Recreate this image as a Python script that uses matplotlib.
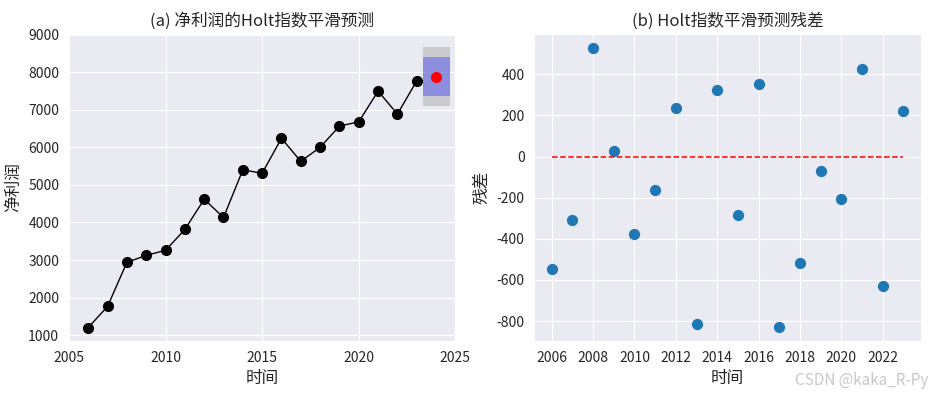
import matplotlib
matplotlib.use('Agg')
import matplotlib.pyplot as plt
import seaborn as sns

sns.set_style('darkgrid')
plt.rcParams['font.family'] = ['Noto Sans CJK SC', 'DejaVu Sans']
plt.rcParams['axes.unicode_minus'] = False

# 净利润及 Holt 预测
years = list(range(2006, 2024))
profit = [1204, 1764, 2938, 3124, 3258, 3813, 4618, 4133, 5400, 5311,
          6240, 5627, 6000, 6565, 6680, 7497, 6885, 7769]
fc_year = 2024
fc_value = 7867
fc_span = [2023.3, 2024.7]
fc_lo80, fc_hi80 = 7355, 8408
fc_lo95, fc_hi95 = 7089, 8675
left_xticks = [2005, 2010, 2015, 2020, 2025]

# 残差
resid = [-548, -306, 529, 26, -374, -160, 238, -815, 325, -286,
         351, -828, -519, -68, -204, 427, -631, 223]

fig, (ax1, ax2) = plt.subplots(1, 2, figsize=(9.31, 3.94), dpi=100)
fig.subplots_adjust(left=0.074, right=0.989, top=0.914, bottom=0.135, wspace=0.204)

ax1.plot(years, profit, color='black', marker='o', markersize=7, linewidth=1)
ax1.fill_between(fc_span, [fc_lo95] * 2, [fc_hi95] * 2, color='gray', alpha=0.3, linewidth=0)
ax1.fill_between(fc_span, [fc_lo80] * 2, [fc_hi80] * 2, color='blue', alpha=0.3, linewidth=0)
ax1.plot([fc_year], [fc_value], 'o', color='red', markersize=7)
ax1.set_xticks(left_xticks)
ax1.set_xlim(2005, 2025)
ax1.set_ylim(850, 9020)
ax1.set_title('(a) 净利润的Holt指数平滑预测', fontsize=12)
ax1.set_xlabel('时间', fontsize=12)
ax1.set_ylabel('净利润', fontsize=12)

ax2.scatter(years, resid, s=50, color='C0')
ax2.hlines(0, years[0], years[-1], colors='red', linestyles='--', linewidth=1.1)
ax2.set_xticks(list(range(2006, 2024, 2)))
ax2.set_title('(b) Holt指数平滑预测残差', fontsize=12)
ax2.set_xlabel('时间', fontsize=12)
ax2.set_ylabel('残差', fontsize=12)

for ax in (ax1, ax2):
    ax.tick_params(labelsize=10)

fig.text(0.997, 0.035, 'CSDN @kaka_R-Py', ha='right', va='center',
         fontsize=11, color='#c8c8c8')

fig.savefig('out.png', dpi=100)
